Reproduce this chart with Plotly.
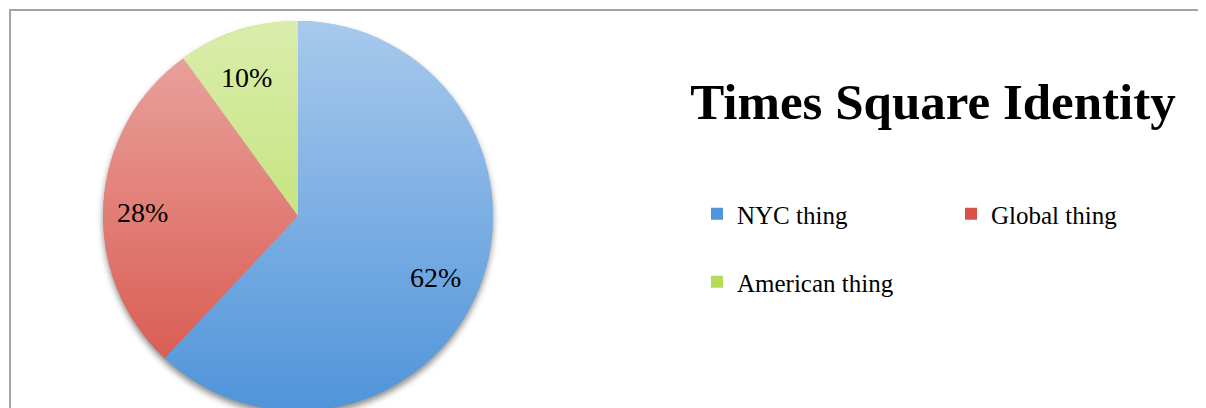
import math
import base64
import plotly.graph_objects as go

# ---- data ----
categories = ["NYC thing", "Global thing", "American thing"]
values = [62, 28, 10]
colors = ["#5094DA", "#D75248", "#B5DB58"]
title_text = "Times Square Identity"

# ---- geometry (figure px; the page body adds an 8px offset) ----
W, H = 1206, 408
PLOT_W = 600          # plot-area width (left part, holds the pie)
CX, CY, R = 290, 208, 195
LABEL_K = 0.78        # radial position of the percentage labels

legend_labels = [c + "<br> " for c in categories]

fig = go.Figure()
fig.add_trace(go.Pie(
    labels=legend_labels,
    values=values,
    sort=False,
    direction="clockwise",
    rotation=0,
    marker=dict(colors=colors, line=dict(width=0)),
    textinfo="none",
    hoverinfo="skip",
    domain=dict(x=[(CX - R) / PLOT_W, (CX + R) / PLOT_W],
                y=[1 - (CY + R) / H, 1 - (CY - R) / H]),
))

# percentage labels placed along each slice's bisector
total = sum(values)
annotations = []
cum = 0
for v in values:
    mid = (cum + v / 2) / total * 2 * math.pi
    cum += v
    px = CX + LABEL_K * R * math.sin(mid)
    py = CY - LABEL_K * R * math.cos(mid)
    annotations.append(dict(
        x=px / PLOT_W, y=1 - py / H, xref="paper", yref="paper",
        text=f"{round(v / total * 100)}%", showarrow=False,
        xanchor="center", yanchor="middle", xshift=-4, yshift=-6,
        font=dict(family="Liberation Serif", size=28, color="#000000"),
    ))


def svg_uri(svg):
    return "data:image/svg+xml;base64," + base64.b64encode(svg.encode()).decode()


shade_svg = (
    '<svg xmlns="http://www.w3.org/2000/svg" width="390" height="390" viewBox="0 0 390 390">'
    '<defs><linearGradient id="g" x1="0" y1="0" x2="0" y2="1">'
    '<stop offset="0" stop-color="#ffffff" stop-opacity="0.5"/>'
    '<stop offset="1" stop-color="#ffffff" stop-opacity="0"/>'
    '</linearGradient></defs>'
    '<circle cx="195" cy="195" r="195" fill="url(#g)"/></svg>'
)
shadow_svg = (
    '<svg xmlns="http://www.w3.org/2000/svg" width="430" height="430" viewBox="0 0 430 430">'
    '<defs><filter id="b" x="-20%" y="-20%" width="140%" height="140%">'
    '<feGaussianBlur stdDeviation="3"/></filter></defs>'
    '<circle cx="215" cy="219" r="195" fill="#000000" fill-opacity="0.45" filter="url(#b)"/></svg>'
)

images = [
    dict(source=svg_uri(shadow_svg), xref="paper", yref="paper",
         x=(CX - 215) / PLOT_W, y=1 - (CY - 215) / H,
         sizex=430 / PLOT_W, sizey=430 / H, sizing="stretch",
         xanchor="left", yanchor="top", layer="below"),
    dict(source=svg_uri(shade_svg), xref="paper", yref="paper",
         x=(CX - R) / PLOT_W, y=1 - (CY - R) / H,
         sizex=2 * R / PLOT_W, sizey=2 * R / H, sizing="stretch",
         xanchor="left", yanchor="top", layer="above"),
]

fig.update_layout(
    width=W, height=H,
    margin=dict(l=0, r=W - PLOT_W, t=0, b=0, autoexpand=False),
    paper_bgcolor="white", plot_bgcolor="white",
    font=dict(family="Liberation Serif", color="#000000"),
    title=dict(
        text="<b>" + title_text + "</b>",
        font=dict(family="Liberation Serif", size=51, color="#000000"),
        xref="container", x=925 / W, xanchor="center",
        yref="container", y=1 - 93 / H, yanchor="middle",
    ),
    legend=dict(
        orientation="h",
        x=689 / PLOT_W, xanchor="left",
        y=1 - 183 / H, yanchor="top",
        entrywidth=209, entrywidthmode="pixels",
        valign="top",
        font=dict(family="Liberation Serif", size=25, color="#000000"),
        bgcolor="rgba(0,0,0,0)",
    ),
    annotations=annotations,
    images=images,
    shapes=[dict(
        type="rect", xref="paper", yref="paper",
        x0=2 / PLOT_W, x1=1400 / PLOT_W, y0=-0.2, y1=1 - 2 / H,
        line=dict(color="#A3A3A3", width=2), layer="below",
    )],
)

fig.write_html("out.html")
